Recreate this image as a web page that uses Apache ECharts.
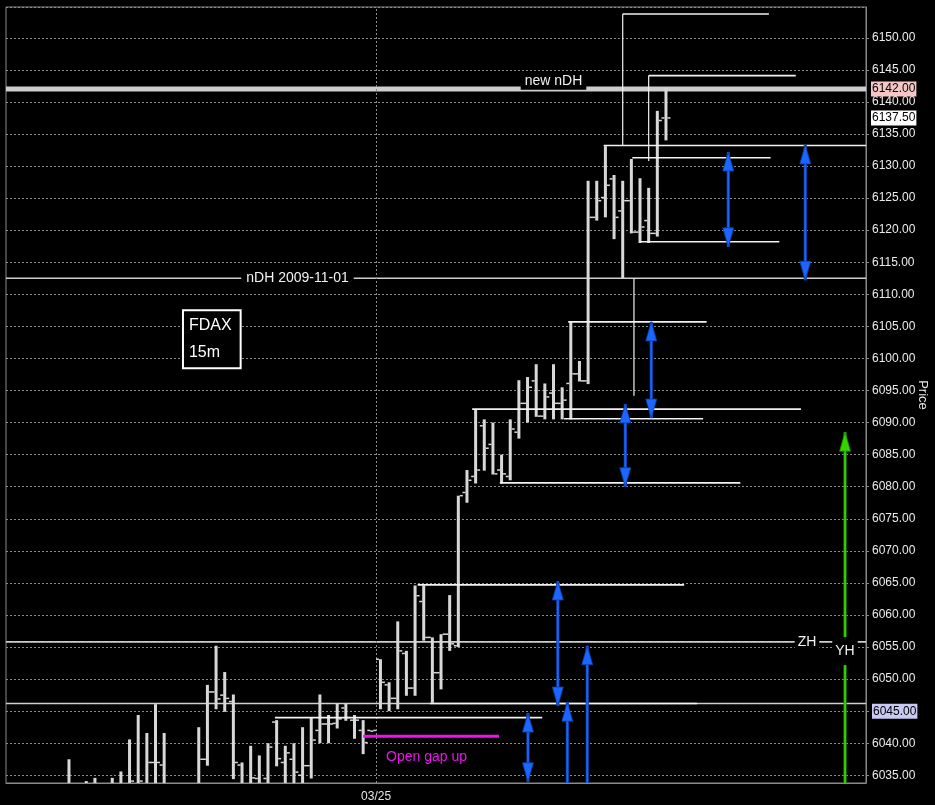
<!DOCTYPE html>
<html>
<head>
<meta charset="utf-8">
<script src="https://cdn.jsdelivr.net/npm/echarts@6/dist/echarts.min.js"></script>
<style>
html,body{margin:0;padding:0;background:#000;}
#c{width:935px;height:805px;}
</style>
</head>
<body>
<div id="c"></div>
<script>
// ---------- DATA ----------
// bar index (15-minute bars), OHLC values
const barK     = [0,2,3,5,6,7,8,9,10,11,15,16,17,18,19,20,21,22,23,24,25,26,27,28,29,30,31,32,33,34,35,36,37,38,39,40,41,42,43,44,45,46,47,48,49,50,51,52,53,54,55,56,57,58,59,60,61,62,63,64,65,66,67,68,69];
const barOpen  = [6033.0,6033.0,6033.0,6033.0,6033.0,6032.5,6033.0,6033.0,6037.0,6036.6,6033.0,6037.5,6048.0,6047.5,6046.5,6036.6,6033.0,6034.5,6034.5,6043.3,6037.0,6037.5,6035.0,6036.5,6042.0,6043.0,6043.1,6045.5,6043.6,6042.0,6042.0,6053.1,6049.1,6047.0,6054.0,6048.6,6062.1,6056.5,6051.0,6057.0,6055.2,6079.1,6081.6,6089.5,6086.6,6082.6,6081.6,6088.5,6093.0,6096.5,6091.0,6094.6,6093.0,6096.1,6097.6,6096.5,6122.0,6125.1,6128.0,6123.0,6124.6,6119.7,6121.5,6119.5,6137.5];
const barHigh  = [6037.5,6034.1,6034.6,6034.6,6035.6,6040.6,6044.4,6041.6,6046.1,6041.6,6042.5,6049.1,6055.2,6051.1,6047.6,6037.0,6039.6,6038.1,6040.0,6043.6,6039.6,6040.0,6042.5,6044.0,6047.6,6044.4,6046.2,6046.2,6044.4,6043.6,6042.0,6053.1,6049.5,6059.0,6054.4,6064.6,6064.6,6056.5,6057.0,6063.1,6078.6,6082.6,6092.0,6090.5,6090.0,6085.0,6090.5,6096.6,6097.1,6099.1,6096.1,6099.1,6095.5,6105.7,6099.6,6127.7,6127.7,6133.1,6128.6,6127.7,6131.1,6128.1,6126.6,6138.6,6142.1];
const barLow   = [6030.0,6030.0,6030.0,6030.0,6030.0,6030.0,6030.0,6030.0,6030.0,6030.0,6030.0,6036.5,6045.3,6044.9,6034.4,6030.0,6030.0,6030.0,6030.0,6036.4,6030.0,6030.0,6030.0,6034.5,6040.0,6040.0,6042.3,6043.5,6040.7,6038.3,6042.0,6045.3,6045.0,6045.3,6047.4,6047.4,6056.0,6046.3,6048.4,6054.4,6055.0,6077.5,6080.5,6082.5,6081.9,6080.5,6081.0,6087.5,6090.0,6090.9,6090.5,6090.5,6090.5,6090.5,6096.4,6096.0,6121.5,6122.0,6118.6,6112.5,6119.5,6118.0,6118.0,6119.0,6134.0];
const barClose = [6032.5,6032.5,6032.5,6032.5,6032.5,6034.1,6034.1,6037.0,6037.0,6033.0,6037.5,6048.0,6046.9,6047.0,6037.0,6033.0,6034.6,6033.0,6039.4,6037.6,6038.5,6035.5,6036.5,6040.5,6043.0,6043.0,6043.8,6044.0,6043.6,6040.1,6042.0,6049.5,6047.0,6054.4,6048.6,6063.0,6056.5,6051.0,6057.0,6055.5,6078.6,6081.0,6082.6,6086.0,6082.0,6082.0,6089.0,6093.0,6095.5,6091.0,6094.0,6093.0,6093.5,6097.6,6096.5,6122.0,6124.6,6127.0,6122.0,6124.6,6119.7,6120.5,6119.5,6137.1,6137.5];

// axis
const dateLineK = 35.5;
const dateLabels = ['03/25'];
const highlightTick = 6045;
const priceMarks = [6142.0, 6137.5];   // last new high, last price

// full-width levels
const levelPrices = [6112.5, 6055.8, 6046.2];   // nDH 2009-11-01, ZH, 6046
const newHighPrice = [6142.0];                  // new nDH

// drawn horizontal segments [fromK, toK, price]
const hSegs = [
  [23.8, 54.7, 6044.0],
  [40.3, 71.1, 6064.7],
  [41.7, 72.6, 6046.2],
  [49.8, 77.6, 6080.6],
  [46.6, 84.6, 6092.1],
  [57.2, 73.3, 6090.6],
  [57.7, 73.7, 6105.7],
  [61.8, 92.12, 6133.2],
  [64.0, 80.9, 6153.7],
  [67.0, 84.0, 6144.1],
  [65.1, 81.1, 6131.3],
  [66.0, 82.1, 6118.2]
];
// drawn vertical segments [k, fromPrice, toPrice]
const vSegs = [
  [65.3, 6112.5, 6094.2],
  [64.0, 6133.2, 6153.7],
  [67.0, 6144.1, 6130.8]
];
// open gap line [fromK, toK, price]
const gapSeg = [[34.0, 49.7, 6041.1]];

// arrows [k, fromPrice, toPrice, doubleHeaded]
const blueArrows = [
  [76.2, 6117.4, 6132.2, 1],
  [85.1, 6112.2, 6133.3, 1],
  [67.3, 6090.7, 6105.7, 1],
  [64.3, 6080.0, 6092.9, 1],
  [56.5, 6045.8, 6065.3, 1],
  [53.05, 6034.0, 6044.7, 1],
  [57.6, 6030.0, 6046.4, 0],
  [59.9, 6030.0, 6055.2, 0]
];
const greenArrows = [[89.7, 6030.0, 6088.5, 0]];

// text notes
const noteText = ['new nDH', 'nDH 2009-11-01', 'ZH', 'YH', 'Open gap up', 'FDAX\n15m'];
const noteK    = [56.0, 26.41, 85.3, 89.69, 41.32, 13.29];
const noteP    = [6143.3, 6112.55, 6055.8, 6054.37, 6037.8, 6103.0];

// ---------- CHART ----------
const X_MIN = -7.28, X_MAX = 92.12;
const Y_MIN = 6033.8, Y_MAX = 6154.8;
const FONT = '"Liberation Sans", Arial, sans-serif';
const AXFONT = '"Liberation Sans", Arial, sans-serif';
const AXSIZE = 12;
const HIDDEN = {color: 'rgba(0,0,0,0)', width: 0};

const chart = echarts.init(document.getElementById('c'), null, {renderer: 'canvas'});

const barData = barK.map((k, i) => [k, barOpen[i], barHigh[i], barLow[i], barClose[i]]);

function segSeries(name, rows, color, width, z) {
  return {
    name, type: 'custom', z, clip: true, silent: true,
    data: rows,
    encode: {x: [0, 2], y: [1, 3]},
    renderItem: (params, api) => {
      const a = api.coord([api.value(0), api.value(1)]);
      const b = api.coord([api.value(2), api.value(3)]);
      return {type: 'line', shape: {x1: a[0], y1: a[1], x2: b[0], y2: b[1]},
              style: {stroke: color, lineWidth: width}};
    }
  };
}

function arrowSeries(name, rows, color, edge) {
  return {
    name, type: 'custom', z: 8, clip: true, silent: true,
    data: rows,
    encode: {x: 0, y: [1, 2]},
    renderItem: (params, api) => {
      const k = api.value(0);
      const a = api.coord([k, api.value(1)]);
      const b = api.coord([k, api.value(2)]);
      const dir = Math.sign(b[1] - a[1]) || -1;
      const head = (tip, d) => ({
        type: 'polygon',
        shape: {points: [[tip[0], tip[1]], [tip[0] - 5.5, tip[1] - d * 19], [tip[0] + 5.5, tip[1] - d * 19]]},
        style: {fill: color, stroke: edge, lineWidth: 0.8}
      });
      const ch = [
        {type: 'line', shape: {x1: a[0], y1: a[1], x2: b[0], y2: b[1]}, style: {stroke: edge, lineWidth: 3.2}},
        {type: 'line', shape: {x1: a[0], y1: a[1], x2: b[0], y2: b[1]}, style: {stroke: color, lineWidth: 1.8}},
        head(b, dir)
      ];
      if (api.value(3)) ch.push(head(a, -dir));
      return {type: 'group', children: ch};
    }
  };
}

const noteStyles = [
  {fill: '#f2f2f2', backgroundColor: '#000', padding: [2, 4]},
  {fill: '#f2f2f2', backgroundColor: '#000', padding: [1, 5]},
  {fill: '#f2f2f2', backgroundColor: '#000', padding: [1, 3]},
  {fill: '#f2f2f2', backgroundColor: '#000', padding: [7, 3]},
  {fill: '#ee11ee'},
  {fill: '#ffffff', align: 'left', font: '16px ' + FONT, lineHeight: 27,
   backgroundColor: '#000', borderColor: '#ffffff', borderWidth: 2, padding: [2, 8, 0, 5]}
];

const option = {
  backgroundColor: '#000',
  animation: false,
  grid: {left: 6, right: 69, top: 7, bottom: 22, show: true, borderColor: '#8a8a8a', borderWidth: 1,
         backgroundColor: '#000', containLabel: false, outerBoundsMode: 'none'},
  xAxis: {
    type: 'value', min: X_MIN, max: X_MAX,
    axisLine: {show: true, onZero: false, lineStyle: {color: '#8a8a8a'}},
    axisTick: {show: false}, axisLabel: {show: false}, splitLine: {show: false}
  },
  yAxis: {
    type: 'value', position: 'right', min: Y_MIN, max: Y_MAX, scale: true,
    splitNumber: 24, minInterval: 5, maxInterval: 5,
    axisLine: {show: true, onZero: false, lineStyle: {color: '#8a8a8a'}},
    axisTick: {show: true, length: 3, lineStyle: {color: '#8a8a8a'}},
    axisLabel: {
      show: true, showMinLabel: false, showMaxLabel: false, margin: 6,
      color: '#ececec', fontSize: AXSIZE, fontFamily: AXFONT,
      formatter: v => Math.abs(v - highlightTick) < 0.01 ? '{hl|' + v.toFixed(2) + '}' : v.toFixed(2),
      rich: {hl: {backgroundColor: '#c9c9f3', color: '#000', fontSize: AXSIZE, fontFamily: AXFONT, padding: [2, 1, 1, 1]}}
    },
    splitLine: {show: true, lineStyle: {color: '#8a8a8a', type: [2, 2], width: 1}},
    name: 'Price', nameLocation: 'middle', nameRotate: -90, nameGap: 50, nameMoveOverlap: false,
    nameTextStyle: {color: '#e6e6e6', fontSize: 13, fontFamily: FONT}
  },
  series: [
    segSeries('levels', levelPrices.map(p => [X_MIN, p, X_MAX, p]), '#cfcfcf', 1.6, 2),
    segSeries('newHigh', newHighPrice.map(p => [X_MIN, p, X_MAX, p]), '#cdcdcd', 5, 2),
    {
      name: 'FDAX', type: 'custom', z: 5, clip: true, silent: true,
      data: barData,
      encode: {x: 0, y: [1, 2, 3, 4]},
      renderItem: (params, api) => {
        const x = api.coord([api.value(0), 0])[0];
        const oY = api.coord([0, api.value(1)])[1];
        const hY = api.coord([0, api.value(2)])[1];
        const lY = api.coord([0, api.value(3)])[1];
        const cY = api.coord([0, api.value(4)])[1];
        const col = '#d8d8d8';
        return {type: 'group', children: [
          {type: 'rect', shape: {x: x - 1.5, y: hY, width: 3, height: Math.max(lY - hY, 1.5)}, style: {fill: col}},
          {type: 'rect', shape: {x: x - 4.5, y: oY - 0.75, width: 3, height: 1.5}, style: {fill: col}},
          {type: 'rect', shape: {x: x + 1.5, y: cY - 0.75, width: 3, height: 1.5}, style: {fill: col}}
        ]};
      },
      markLine: {
        silent: true, symbol: 'none', animation: false,
        data: [
          {xAxis: dateLineK, lineStyle: {color: '#8a8a8a', type: [2, 2], width: 1},
           label: {show: true, position: 'start', formatter: dateLabels[0], color: '#e6e6e6', fontSize: 12, fontFamily: AXFONT, distance: 8}},
          {yAxis: priceMarks[0], lineStyle: HIDDEN,
           label: {show: true, position: 'end', formatter: priceMarks[0].toFixed(2), color: '#000', backgroundColor: '#f5c6c6',
                   fontSize: AXSIZE, fontFamily: AXFONT, distance: 5, padding: [2, 1, 1, 1]}},
          {yAxis: priceMarks[1], lineStyle: HIDDEN,
           label: {show: true, position: 'end', formatter: priceMarks[1].toFixed(2), color: '#000', backgroundColor: '#ffffff',
                   fontSize: AXSIZE, fontFamily: AXFONT, distance: 5, padding: [2, 1, 1, 1]}}
        ]
      }
    },
    segSeries('segments', hSegs.map(s => [s[0], s[2], s[1], s[2]]), '#f2f2f2', 1.6, 6),
    segSeries('verticals', vSegs.map(s => [s[0], s[1], s[0], s[2]]), '#f2f2f2', 1.2, 6),
    segSeries('openGap', gapSeg.map(s => [s[0], s[2], s[1], s[2]]), '#ee11ee', 3, 6),
    arrowSeries('blueArrows', blueArrows, '#1a66ff', '#0a3fa8'),
    arrowSeries('greenArrows', greenArrows, '#33d400', '#1f8a00'),
    {
      name: 'notes', type: 'custom', z: 10, clip: false, silent: true,
      data: noteK.map((k, i) => [k, noteP[i]]),
      encode: {x: 0, y: 1},
      renderItem: (params, api) => {
        const p = api.coord([api.value(0), api.value(1)]);
        const st = Object.assign({
          text: noteText[params.dataIndex], fill: '#fff', font: '14px ' + FONT,
          align: 'center', verticalAlign: 'middle'
        }, noteStyles[params.dataIndex]);
        return {type: 'text', x: p[0], y: p[1], style: st};
      }
    }
  ]
};
chart.setOption(option);
</script>
</body>
</html>
